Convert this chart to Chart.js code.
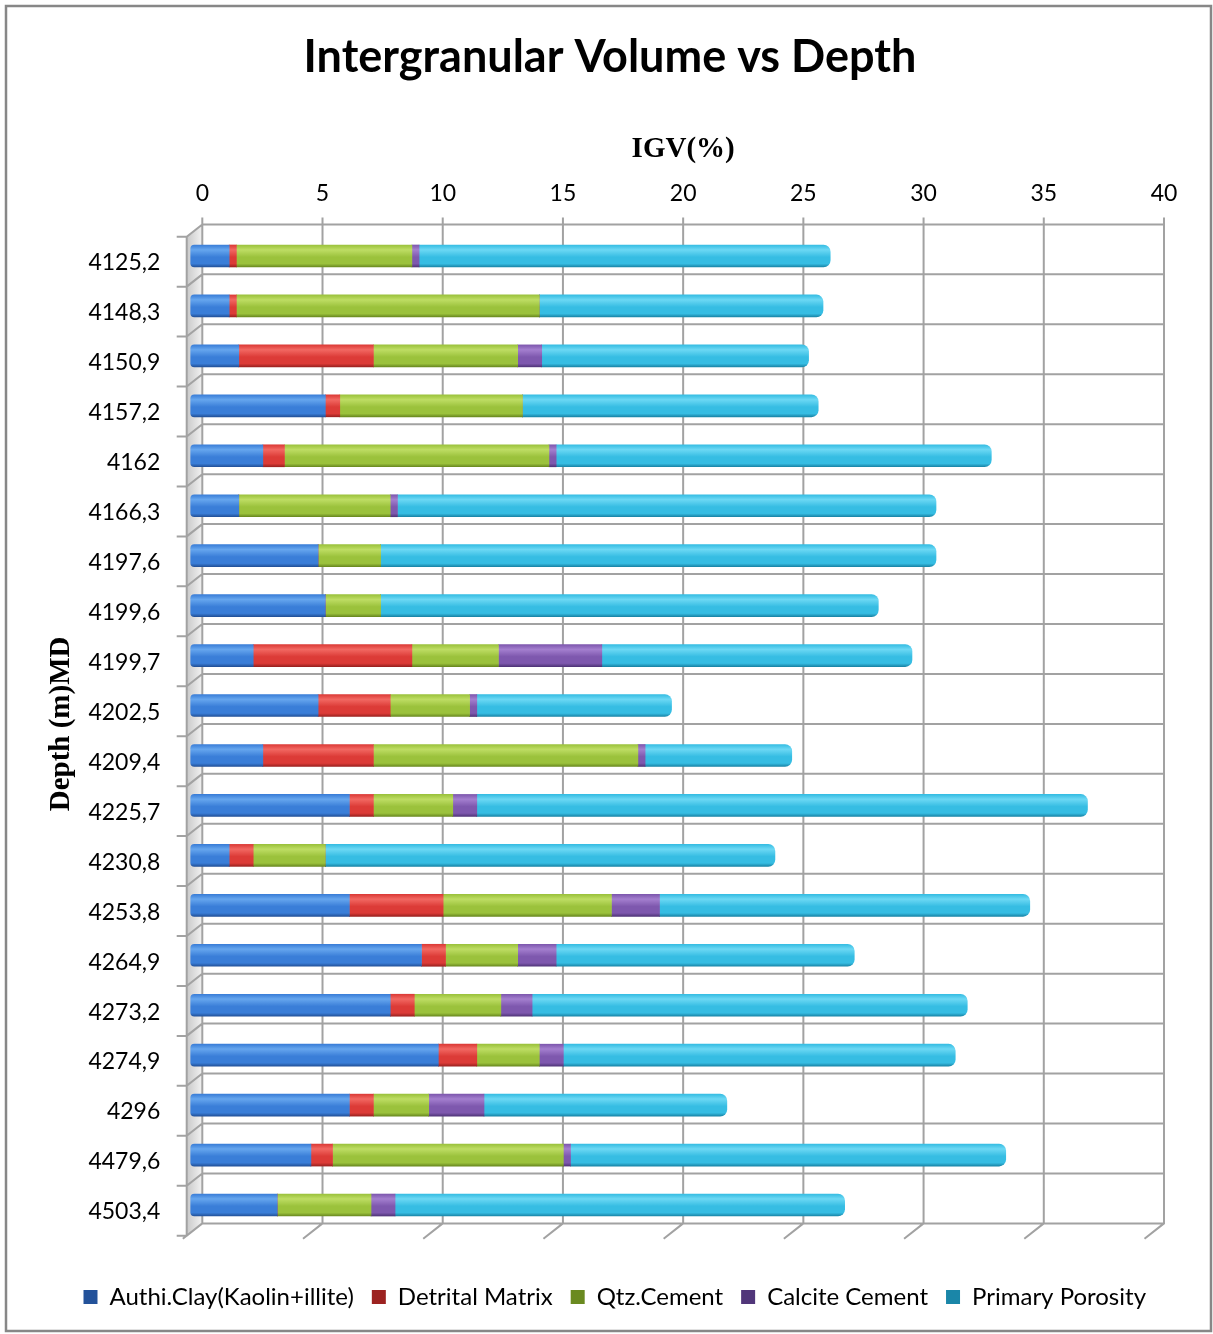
<!DOCTYPE html>
<html>
<head>
<meta charset="utf-8">
<title>Intergranular Volume vs Depth</title>
<script src="https://cdn.jsdelivr.net/npm/chart.js@4.4.1/dist/chart.umd.min.js"></script>
<style>
  html, body { margin: 0; padding: 0; background: #ffffff; }
  #wrap { position: relative; width: 1213px; height: 1334px; }
</style>
</head>
<body>
<div id="wrap"><canvas id="igv"></canvas></div>
<script>
// Sample depths (m MD), top to bottom
const depths = ['4125,2', '4148,3', '4150,9', '4157,2', '4162', '4166,3', '4197,6', '4199,6', '4199,7', '4202,5',
                '4209,4', '4225,7', '4230,8', '4253,8', '4264,9', '4273,2', '4274,9', '4296', '4479,6', '4503,4'];

// Intergranular volume components (%)
const authiClay      = [1.6, 1.6, 2.0, 5.6, 3.0, 2.0, 5.3, 5.6, 2.6, 5.3, 3.0, 6.6, 1.6, 6.6, 9.6, 8.3, 10.3, 6.6, 5.0, 3.6];
const detritalMatrix = [0.3, 0.3, 5.6, 0.6, 0.9, 0.0, 0.0, 0.0, 6.6, 3.0, 4.6, 1.0, 1.0, 3.9, 1.0, 1.0, 1.6, 1.0, 0.9, 0.0];
const qtzCement      = [7.3, 12.6, 6.0, 7.6, 11.0, 6.3, 2.6, 2.3, 3.6, 3.3, 11.0, 3.3, 3.0, 7.0, 3.0, 3.6, 2.6, 2.3, 9.6, 3.9];
const calciteCement  = [0.3, 0.0, 1.0, 0.0, 0.3, 0.3, 0.0, 0.0, 4.3, 0.3, 0.3, 1.0, 0.0, 2.0, 1.6, 1.3, 1.0, 2.3, 0.3, 1.0];
const primaryPoro    = [17.1, 11.8, 11.1, 12.3, 18.1, 22.4, 23.1, 20.7, 12.9, 8.1, 6.1, 25.4, 18.7, 15.4, 12.4, 18.1, 16.3, 10.1, 18.1, 18.7];

const seriesNames = ['Authi.Clay(Kaolin+illite)', 'Detrital Matrix', 'Qtz.Cement', 'Calcite Cement', 'Primary Porosity'];

// IGV axis range
const igvMin = 0, igvMax = 40, igvStep = 5;

// Oblique depth of the pseudo-3D box (front plane is down-left of the back wall)
const DEPTH_DX = 15.6, DEPTH_DY = 12.3;
// Bars sit between the back wall and the front plane
const BAR_SHIFT_X = -11.6, BAR_SHIFT_Y = 6.6;
const BAR_THICK = 22;

const palette = {
  blue:   { light: '#66a6ee', mid: '#3a7ed8', dark: '#23529a' },
  red:    { light: '#f26862', mid: '#dc3b37', dark: '#9c2220' },
  green:  { light: '#bedd64', mid: '#9bc23c', dark: '#6a8a20' },
  purple: { light: '#a47fcf', mid: '#7e58ae', dark: '#51367a' },
  cyan:   { light: '#6cd8f4', mid: '#36bde3', dark: '#1a86a8' }
};

// Cylinder-like shading across each bar's thickness
function shaded(c) {
  return (context) => {
    const chart = context.chart;
    if (context.type !== 'data' || !chart.chartArea || !chart.scales.y) return c.mid;
    const yc = chart.scales.y.getPixelForValue(context.dataIndex);
    const g = chart.ctx.createLinearGradient(0, yc - BAR_THICK / 2, 0, yc + BAR_THICK / 2);
    g.addColorStop(0.0, c.mid);
    g.addColorStop(0.22, c.light);
    g.addColorStop(0.55, c.mid);
    g.addColorStop(0.85, c.mid);
    g.addColorStop(1.0, c.dark);
    return g;
  };
}

const wall3d = {
  id: 'wall3d',
  beforeDraw(chart) {
    const ctx = chart.ctx;
    ctx.save();
    ctx.strokeStyle = '#878787';
    ctx.lineWidth = 2.5;
    ctx.strokeRect(6, 6, chart.width - 8, chart.height - 9);
    ctx.restore();
  },
  beforeDatasetsDraw(chart) {
    const { ctx, chartArea: a, scales: { x, y } } = chart;
    const n = chart.data.labels.length;
    const step = y.getPixelForValue(1) - y.getPixelForValue(0);
    const bounds = [];
    for (let i = 0; i <= n; i++) bounds.push(y.getPixelForValue(i) - step / 2);

    ctx.save();
    // left side wall
    const sg = ctx.createLinearGradient(a.left - DEPTH_DX, 0, a.left, 0);
    sg.addColorStop(0, '#c9c9c9');
    sg.addColorStop(1, '#f2f2f2');
    ctx.fillStyle = sg;
    ctx.beginPath();
    ctx.moveTo(a.left, a.top);
    ctx.lineTo(a.left, a.bottom);
    ctx.lineTo(a.left - DEPTH_DX, a.bottom + DEPTH_DY);
    ctx.lineTo(a.left - DEPTH_DX, a.top + DEPTH_DY);
    ctx.closePath();
    ctx.fill();

    ctx.strokeStyle = '#a2a2a2';
    ctx.lineWidth = 2;
    ctx.beginPath();
    // category separators: back wall, side wall, front tick
    bounds.forEach(b => {
      ctx.moveTo(a.right, b);
      ctx.lineTo(a.left, b);
      ctx.lineTo(a.left - DEPTH_DX, b + DEPTH_DY);
      ctx.lineTo(a.left - DEPTH_DX - 10, b + DEPTH_DY);
    });
    // value gridlines on the back wall and across the floor
    x.ticks.forEach(t => {
      const px = x.getPixelForValue(t.value);
      ctx.moveTo(px, a.top - 7);
      ctx.lineTo(px, a.bottom);
      ctx.lineTo(px - DEPTH_DX * 1.25, a.bottom + DEPTH_DY * 1.25);
    });
    // front edge of the side wall
    ctx.moveTo(a.left - DEPTH_DX, a.top + DEPTH_DY);
    ctx.lineTo(a.left - DEPTH_DX, a.bottom + DEPTH_DY);
    ctx.stroke();
    ctx.restore();

    ctx.save();
    ctx.translate(BAR_SHIFT_X, BAR_SHIFT_Y);
  },
  afterDatasetsDraw(chart) {
    chart.ctx.restore();
  }
};

function makeDataset(label, data, colors, idx, last) {
  return {
    label,
    data,
    backgroundColor: shaded(colors),
    borderWidth: 0,
    borderSkipped: false,
    borderRadius: idx === 0 ? { topLeft: 4, bottomLeft: 4 } : (last ? { topRight: 7, bottomRight: 7 } : 0),
    barThickness: BAR_THICK,
    clip: false
  };
}

function build() {
  const tickFont = { family: 'Lato', size: 23 };
  new Chart(document.getElementById('igv'), {
    type: 'bar',
    data: {
      labels: depths,
      datasets: [
        makeDataset(seriesNames[0], authiClay, palette.blue, 0, false),
        makeDataset(seriesNames[1], detritalMatrix, palette.red, 1, false),
        makeDataset(seriesNames[2], qtzCement, palette.green, 2, false),
        makeDataset(seriesNames[3], calciteCement, palette.purple, 3, false),
        makeDataset(seriesNames[4], primaryPoro, palette.cyan, 4, true)
      ]
    },
    options: {
      indexAxis: 'y',
      responsive: true,
      maintainAspectRatio: false,
      animation: false,
      events: [],
      layout: { padding: { left: 56, right: 49, top: 0, bottom: 15 } },
      scales: {
        x: {
          position: 'top',
          stacked: true,
          min: igvMin,
          max: igvMax,
          ticks: { stepSize: igvStep, padding: 17, font: tickFont, color: '#000' },
          grid: { display: false, drawTicks: false },
          border: { display: false },
          title: {
            display: true, text: 'IGV(%)', color: '#000',
            font: { family: 'Liberation Serif', size: 29, weight: 'bold' },
            padding: { top: 48.6, bottom: 0 }
          },
          afterFit(s) { s.height = 140.4; }
        },
        y: {
          stacked: true,
          ticks: { padding: 42, labelOffset: 13.5, font: tickFont, color: '#000' },
          grid: { display: false, drawTicks: false },
          border: { display: false },
          title: {
            display: true, text: 'Depth (m)MD', color: '#000',
            font: { family: 'Liberation Serif', size: 29, weight: 'bold' },
            padding: { top: -11.4, bottom: 0 }
          },
          afterFit(s) { s.width = 146.3; }
        }
      },
      plugins: {
        title: {
          display: true,
          text: 'Intergranular Volume vs Depth',
          color: '#000',
          font: { family: 'Lato', size: 45, weight: 'bold' },
          padding: { top: 30, bottom: 0 }
        },
        legend: {
          position: 'bottom',
          align: 'end',
          title: { display: true, text: '', font: { size: 1 }, padding: { top: 42.4, bottom: 0 } },
          labels: { boxWidth: 14, boxHeight: 14, padding: 18, color: '#000', font: { family: 'Lato', size: 24 } }
        },
        tooltip: { enabled: false }
      }
    },
    plugins: [wall3d]
  });
}

Promise.all([
  document.fonts.load('bold 45px Lato'),
  document.fonts.load('23px Lato'),
  document.fonts.load('bold 29px "Liberation Serif"')
]).then(build, build);
</script>
</body>
</html>
